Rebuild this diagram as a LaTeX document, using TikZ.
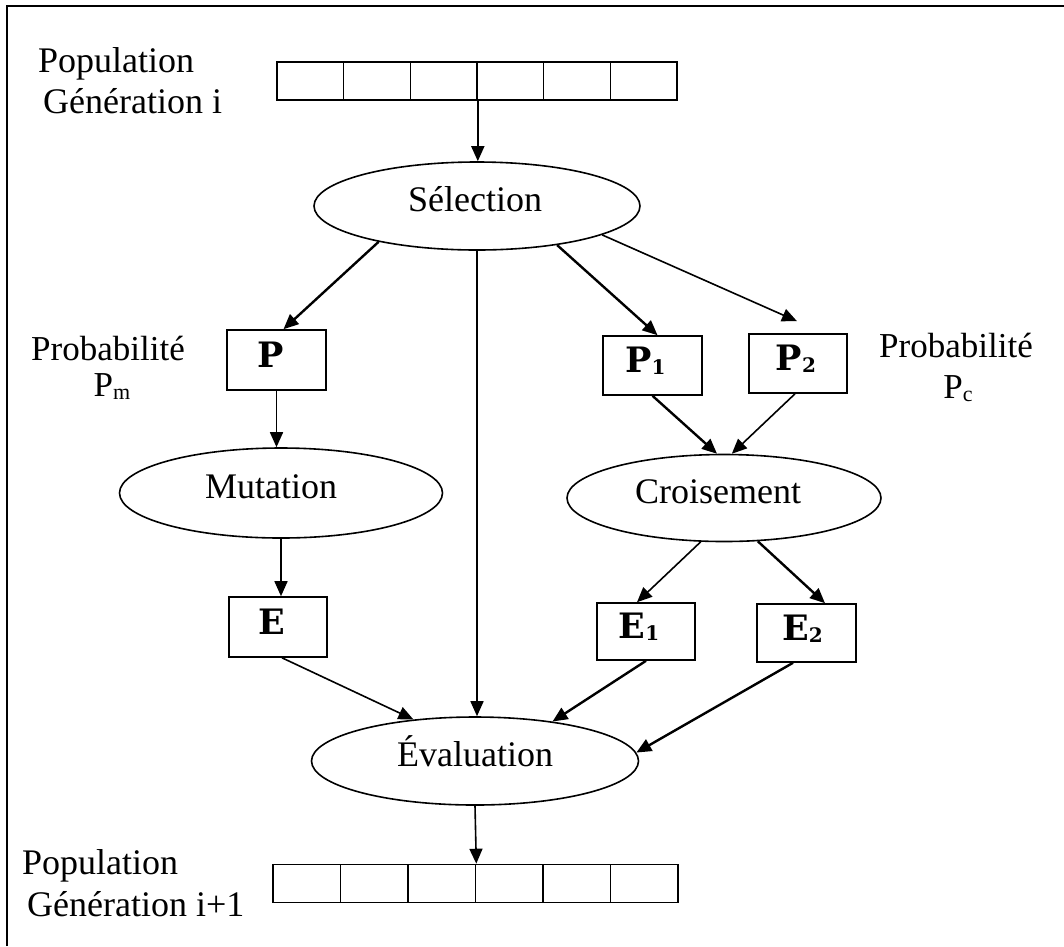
\documentclass[tikz,border=0pt]{standalone}
\usepackage{fontspec}
\setmainfont{Liberation Serif}
\newfontfamily\boxfont{DejaVu Serif}
\usetikzlibrary{arrows.meta,shapes.geometric}
\newcommand\sdig[1]{\raisebox{-2pt}{\fontsize{20}{20}\selectfont #1}}
\newcommand\ssub[1]{\raisebox{-3pt}{\fontsize{22}{22}\selectfont #1}}
\begin{document}
\begin{tikzpicture}[x=1pt,y=-1pt,
  ell/.style={draw,ellipse,line width=1.6pt,inner sep=0pt,text height=19pt,text depth=8pt,font=\fontsize{36}{40}\selectfont},
  box/.style={draw,rectangle,line width=1.6pt,inner sep=0pt,text height=20pt,text depth=6pt,font=\fontsize{35}{40}\selectfont\boxfont\bfseries},
  cell/.style={draw,rectangle,line width=1.6pt,inner sep=0pt,minimum height=38pt},
  lbl/.style={font=\fontsize{36}{41}\selectfont,inner sep=0pt},
  plbl/.style={font=\fontsize{35}{40}\selectfont,inner sep=0pt},
  thinarr/.style={line width=1.6pt,-{Triangle[length=15pt,width=13pt]}},
  thickarr/.style={line width=2.4pt,-{Triangle[length=15pt,width=13pt]}},
]
\useasboundingbox (0,0) rectangle (1064,946);
% frame
\draw[line width=2pt] (7,946) -- (7,6) -- (1064,6);

% population arrays
\foreach \k in {1,...,6}{
  \node[cell,minimum width=66.67pt] (t\k) at ({277+66.67*(\k-0.5)},81) {};
  \node[cell,minimum width=67.5pt] (b\k) at ({273+67.5*(\k-0.5)},883.5) {};
}

% labels
\node[lbl,anchor=base west] (popT) at (38,72) {Population};
\node[lbl,anchor=base west] (genT) at (43,113) {Génération i};
\node[lbl,anchor=base west] (popB) at (22,874) {Population};
\node[lbl,anchor=base west] (genB) at (27,916) {Génération i+1};
\node[plbl,anchor=base] (probL) at (108,360) {Probabilité};
\node[plbl,anchor=base] (pmL) at (112,396) {P\ssub{m}};
\node[plbl,anchor=base] (probR) at (956,357) {Probabilité};
\node[plbl,anchor=base] (pcR) at (958,398) {P\ssub{c}};

% ellipses
\node[ell,minimum width=326pt,minimum height=88pt] (sel) at (477,206) {Sélection\kern4pt};
\node[ell,minimum width=323pt,minimum height=90pt] (mut) at (281,493) {Mutation\kern20pt};
\node[ell,minimum width=314pt,minimum height=87pt] (crois) at (724,498) {Croisement\kern12pt};
\node[ell,minimum width=327pt,minimum height=88pt] (eval) at (475,761) {Évaluation};

% boxes
\node[box,minimum width=99pt,minimum height=60pt] (P) at (276.5,360) {P\kern11pt};
\node[box,minimum width=99pt,minimum height=59pt] (P1) at (652.5,365.5) {P\sdig{1}\kern14pt};
\node[box,minimum width=98pt,minimum height=59pt] (P2) at (798,363.5) {P\sdig{2}\kern4pt};
\node[box,minimum width=98pt,minimum height=60pt] (E) at (278,627) {E\kern13pt};
\node[box,minimum width=98pt,minimum height=57pt] (E1) at (646,631.5) {E\sdig{1}\kern14pt};
\node[box,minimum width=99pt,minimum height=58pt] (E2) at (806.5,633) {E\sdig{2}\kern8pt};

% connectors
\draw[thinarr] (t3.south east) -- (t3.south east |- sel.north);
\draw[thickarr] (sel.200.8) -- ([xshift=7pt]P.north);
\draw[thinarr] (sel.south) -- (sel.south |- eval.north);
\draw[thickarr] (sel.334.8) -- ([xshift=5pt]P1.north);
\draw[thinarr] (sel.347.2) -- ([xshift=-1pt,yshift=12pt]P2.north);
\draw[thickarr] (P1.south) -- (crois.99);
\draw[thinarr] ([xshift=-3pt]P2.south) -- (crois.80);
\draw[thinarr] (P.south) -- (P.south |- mut.north);
\draw[thinarr] (mut.south) -- (mut.south |- E.north);
\draw[thinarr] (crois.242) -- ([xshift=-9pt]E1.north);
\draw[thickarr] (crois.308.7) -- ([xshift=18.5pt]E2.north);
\draw[thinarr] ([xshift=4pt]E.south) -- (eval.146);
\draw[thickarr] (E1.south) -- (eval.27.8);
\draw[thickarr] ([xshift=-13.5pt]E2.south) -- (eval.3.3);
\draw[thinarr] (eval.south) -- (b3.north east);
\end{tikzpicture}
\end{document}
